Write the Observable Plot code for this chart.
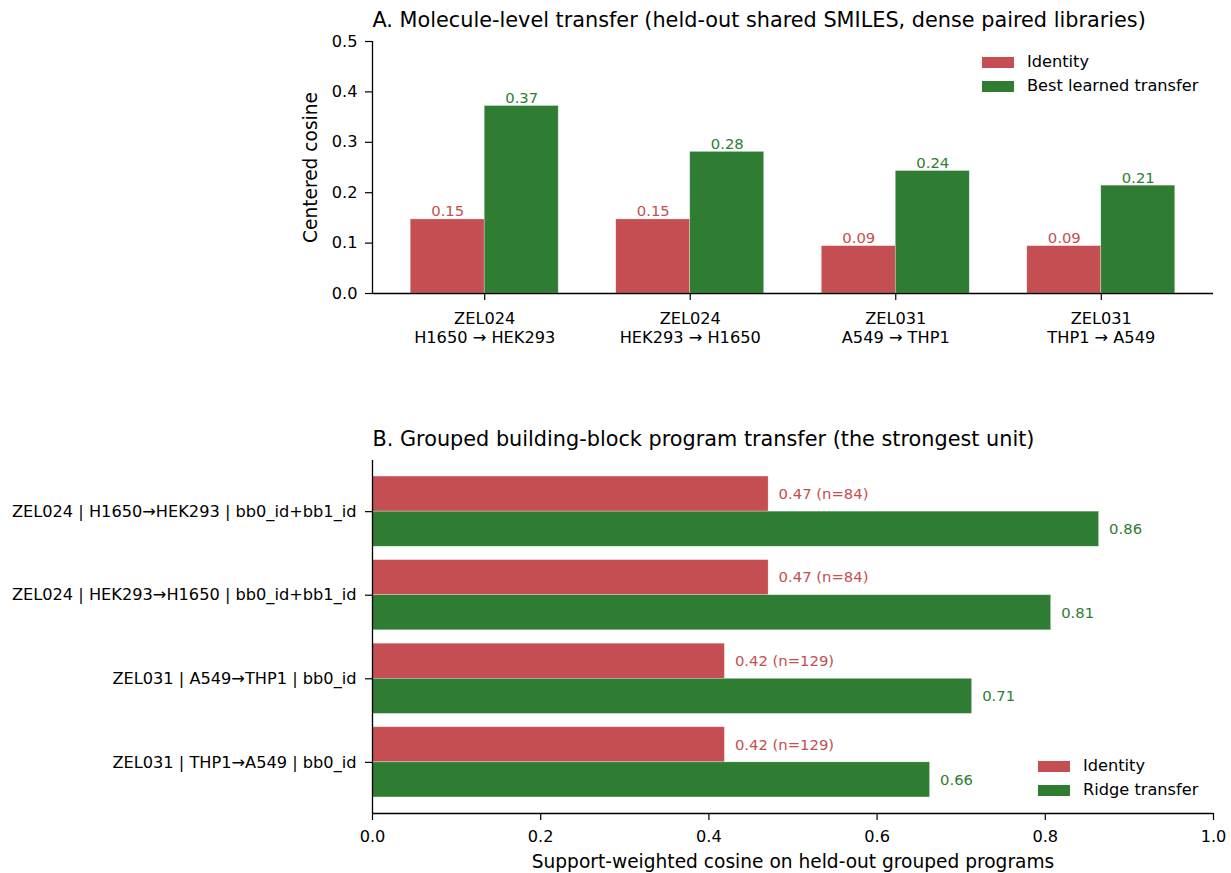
<!DOCTYPE html>
<html>
<head>
<meta charset="utf-8">
<script src="https://cdn.jsdelivr.net/npm/d3@7"></script>
<script src="https://cdn.jsdelivr.net/npm/@observablehq/plot@0.6"></script>
<style>
  html, body { margin: 0; background: #fff; font-family: "DejaVu Sans", sans-serif; overflow: hidden; }
  #wrap { position: relative; width: 1231px; height: 873px; }
  #wrap svg { position: absolute; left: 0; font-family: "DejaVu Sans", sans-serif; max-width: none !important; }
  .leg { position: absolute; font-size: 16.2px; color: #000; font-family: "DejaVu Sans", sans-serif; }
  .leg .row { position: absolute; white-space: nowrap; height: 20px; }
  .leg .sw { position: absolute; left: 0; top: 4.5px; width: 32px; height: 11px; }
  .leg .lbl { position: absolute; left: 45px; top: 0; line-height: 20px; }
</style>
</head>
<body>
<div id="wrap"></div>
<script>
// ---------- Data ----------
const categoriesA = ["ZEL024\nH1650 → HEK293", "ZEL024\nHEK293 → H1650", "ZEL031\nA549 → THP1", "ZEL031\nTHP1 → A549"];
const seriesA = ["Identity", "Best learned transfer"];
const identityA = [0.147, 0.147, 0.094, 0.094];
const bestA = [0.372, 0.281, 0.243, 0.214];

const categoriesB = ["ZEL024 | H1650→HEK293 | bb0_id+bb1_id", "ZEL024 | HEK293→H1650 | bb0_id+bb1_id", "ZEL031 | A549→THP1 | bb0_id", "ZEL031 | THP1→A549 | bb0_id"];
const seriesB = ["Identity", "Ridge transfer"];
const identityB = [0.471, 0.471, 0.419, 0.419];
const ridgeB = [0.864, 0.807, 0.713, 0.663];
const nProgramsB = [84, 84, 129, 129];

const yTicksA = [0, 0.1, 0.2, 0.3, 0.4, 0.5];
const xTicksB = [0, 0.2, 0.4, 0.6, 0.8, 1.0];
const colors = ["#c44e52", "#2e7d32"];

const titleA = "A. Molecule-level transfer (held-out shared SMILES, dense paired libraries)";
const titleB = "B. Grouped building-block program transfer (the strongest unit)";
const yLabelA = "Centered cosine";
const xLabelB = "Support-weighted cosine on held-out grouped programs";

// ---------- Derived tables ----------
const W = 0.36;
const rowsA = categoriesA.flatMap((c, i) => [
  {i, series: seriesA[0], v: identityA[i], a: i - W, b: i, label: identityA[i].toFixed(2)},
  {i, series: seriesA[1], v: bestA[i], a: i, b: i + W, label: bestA[i].toFixed(2)}
]);
const H = 0.42;
const rowsB = categoriesB.flatMap((c, i) => [
  {i, series: seriesB[0], v: identityB[i], a: i - H, b: i, label: `${identityB[i].toFixed(2)} (n=${nProgramsB[i]})`},
  {i, series: seriesB[1], v: ridgeB[i], a: i, b: i + H, label: ridgeB[i].toFixed(2)}
]);

const wrap = document.getElementById("wrap");
const FS = 16.2;      // tick labels
const VS = 14.8;      // value labels
const LS = 18.6;      // axis labels
const TS = 20.8;      // titles

// ---------- Panel A ----------
const xDomA = [-0.546, 3.546];
const plotA = Plot.plot({
  width: 1231, height: 400,
  marginLeft: 372, marginRight: 18, marginTop: 41, marginBottom: 107,
  style: {fontFamily: "DejaVu Sans, sans-serif", fontSize: FS + "px", color: "#000", background: "transparent"},
  x: {domain: xDomA},
  y: {domain: [0, 0.5]},
  color: {domain: seriesA, range: colors},
  marks: [
    Plot.rectY(rowsA, {x1: "a", x2: "b", y1: 0, y2: "v", fill: "series", stroke: "#fff", strokeOpacity: 0.5, strokeWidth: 0.6}),
    Plot.text(rowsA, {x: d => (d.a + d.b) / 2, y: "v", text: "label", fill: "series", lineAnchor: "bottom", dy: -3, fontSize: VS}),
    Plot.ruleY([0], {stroke: "#000", strokeWidth: 1.3}),
    Plot.ruleX([xDomA[0]], {stroke: "#000", strokeWidth: 1.3}),
    Plot.axisX({ticks: [0, 1, 2, 3], tickFormat: i => categoriesA[i], tickSize: 7, tickPadding: 10, fontSize: FS, lineHeight: 1.17, label: null, stroke: "#000", strokeWidth: 1.2}),
    Plot.axisY({ticks: yTicksA, tickFormat: d3.format(".1f"), tickSize: 7, tickPadding: 8, fontSize: FS, label: null, stroke: "#000", strokeWidth: 1.2}),
    Plot.text([yLabelA], {frameAnchor: "left", text: d => d, rotate: -90, dx: -61, textAnchor: "middle", lineAnchor: "middle", fontSize: LS, fill: "#000"}),
    Plot.text([titleA], {frameAnchor: "top-left", text: d => d, dy: -21, textAnchor: "start", lineAnchor: "middle", fontSize: TS, fill: "#000"})
  ]
});
plotA.style.top = "0px";
wrap.appendChild(plotA);

// ---------- Panel B ----------
const yDomB = [-0.612, 3.612];
const plotB = Plot.plot({
  width: 1231, height: 473,
  marginLeft: 372, marginRight: 18, marginTop: 60, marginBottom: 60,
  style: {fontFamily: "DejaVu Sans, sans-serif", fontSize: FS + "px", color: "#000", background: "transparent"},
  x: {domain: [0, 1]},
  y: {domain: yDomB, reverse: true},
  color: {domain: seriesB, range: colors},
  marks: [
    Plot.rectX(rowsB, {y1: "a", y2: "b", x1: 0, x2: "v", fill: "series", stroke: "#fff", strokeOpacity: 0.5, strokeWidth: 0.6}),
    Plot.text(rowsB, {y: d => (d.a + d.b) / 2, x: "v", text: "label", fill: "series", textAnchor: "start", dx: 10, fontSize: VS}),
    Plot.ruleX([0], {stroke: "#000", strokeWidth: 1.3}),
    Plot.ruleY([yDomB[1]], {stroke: "#000", strokeWidth: 1.3}),
    Plot.axisX({ticks: xTicksB, tickFormat: d3.format(".1f"), tickSize: 7, tickPadding: 10, fontSize: FS, label: null, stroke: "#000", strokeWidth: 1.2}),
    Plot.axisY({ticks: [0, 1, 2, 3], tickFormat: i => categoriesB[i], tickSize: 7, tickPadding: 9, fontSize: FS, label: null, stroke: "#000", strokeWidth: 1.2}),
    Plot.text([xLabelB], {frameAnchor: "bottom", text: d => d, dy: 49, lineAnchor: "middle", fontSize: LS, fill: "#000"}),
    Plot.text([titleB], {frameAnchor: "top-left", text: d => d, dy: -21, textAnchor: "start", lineAnchor: "middle", fontSize: TS, fill: "#000"})
  ]
});
plotB.style.top = "400px";
wrap.appendChild(plotB);

// ---------- Legends ----------
function legend(series, left, top) {
  const div = document.createElement("div");
  div.className = "leg";
  div.style.left = left + "px";
  div.style.top = top + "px";
  series.forEach((s, k) => {
    const row = document.createElement("div");
    row.className = "row";
    row.style.top = (k * 24) + "px";
    const sw = document.createElement("div");
    sw.className = "sw";
    sw.style.background = colors[k];
    const lb = document.createElement("div");
    lb.className = "lbl";
    lb.textContent = s;
    row.appendChild(sw); row.appendChild(lb);
    div.appendChild(row);
  });
  wrap.appendChild(div);
}
legend(seriesA, 982, 52);
legend(seriesB, 1038, 756);
</script>
</body>
</html>
